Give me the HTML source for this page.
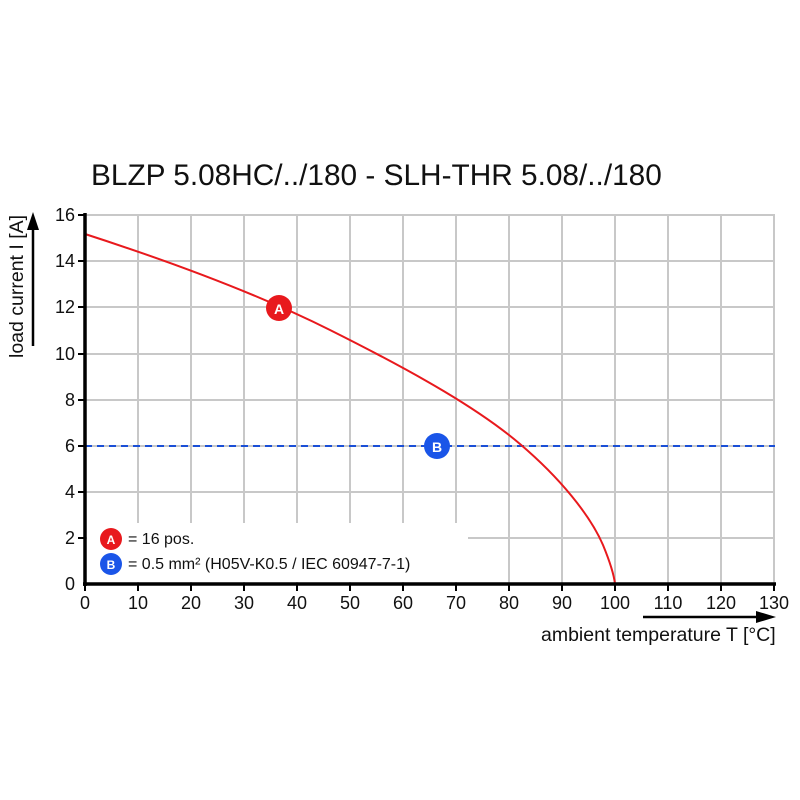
<!DOCTYPE html>
<html><head><style>body{margin:0;background:#fff}svg{display:block}text{font-family:"Liberation Sans",sans-serif}</style></head>
<body>
<svg width="800" height="800" viewBox="0 0 800 800">
<text x="91" y="185" font-size="29.8" fill="#111">BLZP 5.08HC/../180 - SLH-THR 5.08/../180</text>
<g stroke="#c8c8c8" stroke-width="2">
<line x1="85" y1="215" x2="775" y2="215"/><line x1="85" y1="261" x2="775" y2="261"/>
<line x1="85" y1="307" x2="775" y2="307"/><line x1="85" y1="354" x2="775" y2="354"/>
<line x1="85" y1="400" x2="775" y2="400"/><line x1="85" y1="446" x2="775" y2="446"/>
<line x1="85" y1="492" x2="775" y2="492"/><line x1="85" y1="538" x2="775" y2="538"/>
<line x1="138" y1="215" x2="138" y2="584"/><line x1="191" y1="215" x2="191" y2="584"/>
<line x1="244" y1="215" x2="244" y2="584"/><line x1="297" y1="215" x2="297" y2="584"/>
<line x1="350" y1="215" x2="350" y2="584"/><line x1="403" y1="215" x2="403" y2="584"/>
<line x1="456" y1="215" x2="456" y2="584"/><line x1="509" y1="215" x2="509" y2="584"/>
<line x1="562" y1="215" x2="562" y2="584"/><line x1="615" y1="215" x2="615" y2="584"/>
<line x1="668" y1="215" x2="668" y2="584"/><line x1="721" y1="215" x2="721" y2="584"/>
<line x1="774" y1="215" x2="774" y2="584"/>
</g>
<rect x="87" y="523" width="381" height="59" fill="#fff"/>
<line x1="85" y1="446" x2="775" y2="446" stroke="#1a4fd6" stroke-width="2" stroke-dasharray="7,5"/>
<path fill="none" stroke="#e8191d" stroke-width="2" d="M85,234 C150,255 250,290 330,330 C420,375 480,410 520,444 C560,478 590,515 603,545 C610,562 614,575 615,584"/>
<g stroke="#000" stroke-width="3.5" fill="none">
<line x1="85" y1="213" x2="85" y2="586"/><line x1="83" y1="584" x2="776" y2="584"/>
</g>
<g stroke="#000" stroke-width="2">
<line x1="78" y1="215" x2="85" y2="215"/><line x1="78" y1="261" x2="85" y2="261"/><line x1="78" y1="307" x2="85" y2="307"/><line x1="78" y1="354" x2="85" y2="354"/><line x1="78" y1="400" x2="85" y2="400"/><line x1="78" y1="446" x2="85" y2="446"/><line x1="78" y1="492" x2="85" y2="492"/><line x1="78" y1="538" x2="85" y2="538"/>
<line x1="85" y1="584" x2="85" y2="591"/><line x1="138" y1="584" x2="138" y2="591"/><line x1="191" y1="584" x2="191" y2="591"/><line x1="244" y1="584" x2="244" y2="591"/><line x1="297" y1="584" x2="297" y2="591"/><line x1="350" y1="584" x2="350" y2="591"/><line x1="403" y1="584" x2="403" y2="591"/><line x1="456" y1="584" x2="456" y2="591"/><line x1="509" y1="584" x2="509" y2="591"/><line x1="562" y1="584" x2="562" y2="591"/><line x1="615" y1="584" x2="615" y2="591"/><line x1="668" y1="584" x2="668" y2="591"/><line x1="721" y1="584" x2="721" y2="591"/><line x1="774" y1="584" x2="774" y2="591"/>
</g>
<g font-size="18" fill="#111" text-anchor="end">
<text x="75" y="221">16</text><text x="75" y="267">14</text><text x="75" y="313">12</text><text x="75" y="360">10</text><text x="75" y="406">8</text><text x="75" y="452">6</text><text x="75" y="498">4</text><text x="75" y="544">2</text><text x="75" y="590">0</text>
</g>
<g font-size="18" fill="#111" text-anchor="middle">
<text x="85" y="609">0</text><text x="138" y="609">10</text><text x="191" y="609">20</text><text x="244" y="609">30</text><text x="297" y="609">40</text><text x="350" y="609">50</text><text x="403" y="609">60</text><text x="456" y="609">70</text><text x="509" y="609">80</text><text x="562" y="609">90</text><text x="615" y="609">100</text><text x="668" y="609">110</text><text x="721" y="609">120</text><text x="774" y="609">130</text>
</g>
<text x="23" y="358" font-size="19.5" fill="#111" transform="rotate(-90 23 358)">load current I [A]</text>
<line x1="33" y1="346" x2="33" y2="228" stroke="#000" stroke-width="2.5"/>
<polygon points="33,212 27,230 39,230" fill="#000"/>
<text x="541" y="641" font-size="19.5" fill="#111">ambient temperature T [°C]</text>
<line x1="643" y1="617" x2="757" y2="617" stroke="#000" stroke-width="2.5"/>
<polygon points="776,617 756,611 756,623" fill="#000"/>
<circle cx="279" cy="308" r="13" fill="#e8191d"/><text x="279" y="314" font-size="14" font-weight="bold" fill="#fff" text-anchor="middle">A</text>
<circle cx="437" cy="446" r="13" fill="#1a55e8"/><text x="437" y="452" font-size="14" font-weight="bold" fill="#fff" text-anchor="middle">B</text>
<circle cx="111" cy="539" r="11" fill="#e8191d"/><text x="111" y="544" font-size="12" font-weight="bold" fill="#fff" text-anchor="middle">A</text>
<circle cx="111" cy="564" r="11" fill="#1a55e8"/><text x="111" y="569" font-size="12" font-weight="bold" fill="#fff" text-anchor="middle">B</text>
<text x="128" y="544" font-size="16" fill="#111">= 16 pos.</text>
<text x="128" y="569" font-size="16" fill="#111">= 0.5 mm² (H05V-K0.5 / IEC 60947-7-1)</text>
</svg>
</body></html>
